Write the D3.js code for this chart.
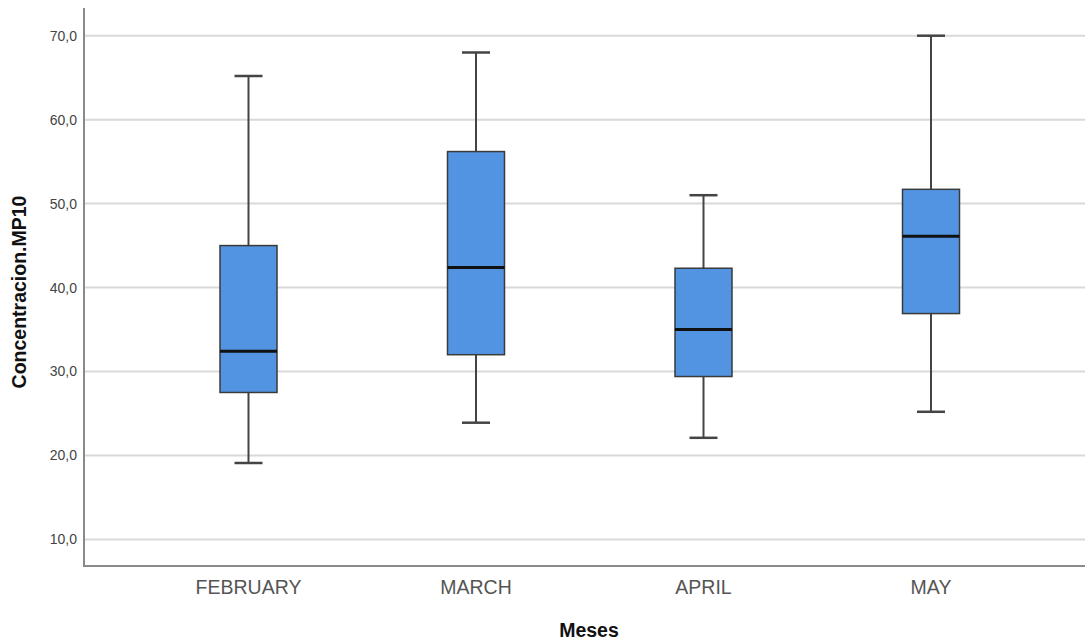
<!DOCTYPE html>
<html>
<head>
<meta charset="utf-8">
<script src="https://cdn.jsdelivr.net/npm/d3@7"></script>
<style>
  html, body { margin: 0; padding: 0; background: #fff; }
  svg { display: block; }
</style>
</head>
<body>
<svg id="chart" width="1085" height="641"></svg>
<script>
// ---- data ----
const months = ["FEBRUARY", "MARCH", "APRIL", "MAY"];
const whiskerLow  = [19.1, 23.9, 22.1, 25.2];
const q1          = [27.5, 32.0, 29.4, 36.9];
const median      = [32.4, 42.4, 35.0, 46.1];
const q3          = [45.0, 56.2, 42.3, 51.7];
const whiskerHigh = [65.2, 68.0, 51.0, 70.0];
const yTicks = [10, 20, 30, 40, 50, 60, 70];
const yTitle = "Concentracion.MP10";
const xTitle = "Meses";

(function () {
const data = months.map((m, i) => ({
  month: m, lo: whiskerLow[i], q1: q1[i], med: median[i], q3: q3[i], hi: whiskerHigh[i]
}));

const svg = d3.select("#chart");
const pLeft = 84, pRight = 1085, pTop = 8, pBottom = 566;

const y = d3.scaleLinear().domain([6.83, 73.3]).range([pBottom, pTop]);
const x = d3.scaleBand().domain(months).range([134.75, 1044.75]).paddingInner(0).paddingOuter(0);
const cx = m => x(m) + x.bandwidth() / 2;
const boxW = 57, capW = 28;

const locale = d3.formatLocale({decimal: ",", thousands: ".", grouping: [3], currency: ["", ""]});
const fmt = locale.format(".1f");

// gridlines
svg.append("g").selectAll("line").data(yTicks).join("line")
  .attr("x1", pLeft).attr("x2", pRight)
  .attr("y1", d => y(d)).attr("y2", d => y(d))
  .attr("stroke", "#d9d9d9").attr("stroke-width", 2);

// y axis
const yAxis = svg.append("g").attr("transform", `translate(${pLeft},0)`)
  .call(d3.axisLeft(y).tickValues(yTicks).tickFormat(fmt).tickSize(0).tickPadding(7));
yAxis.select(".domain").remove();
yAxis.selectAll("text")
  .attr("font-family", "Liberation Sans, Arial, sans-serif")
  .attr("font-size", 14).attr("fill", "#444");

// x axis labels
const xAxis = svg.append("g").attr("transform", `translate(0,${pBottom})`)
  .call(d3.axisBottom(x).tickSize(0).tickPadding(14));
xAxis.select(".domain").remove();
xAxis.selectAll("text")
  .attr("font-family", "Liberation Sans, Arial, sans-serif")
  .attr("font-size", 19.5).attr("fill", "#555");

// axis lines
svg.append("line").attr("x1", pLeft).attr("x2", pLeft).attr("y1", pTop).attr("y2", pBottom + 1)
  .attr("stroke", "#8a8a8a").attr("stroke-width", 2);
svg.append("line").attr("x1", pLeft - 1).attr("x2", pRight).attr("y1", pBottom).attr("y2", pBottom)
  .attr("stroke", "#8a8a8a").attr("stroke-width", 2);

// boxes
const g = svg.append("g").selectAll("g").data(data).join("g");
g.append("line").attr("x1", d => cx(d.month)).attr("x2", d => cx(d.month))
  .attr("y1", d => y(d.hi)).attr("y2", d => y(d.q3))
  .attr("stroke", "#444").attr("stroke-width", 2);
g.append("line").attr("x1", d => cx(d.month)).attr("x2", d => cx(d.month))
  .attr("y1", d => y(d.q1)).attr("y2", d => y(d.lo))
  .attr("stroke", "#444").attr("stroke-width", 2);
g.append("line").attr("x1", d => cx(d.month) - capW / 2).attr("x2", d => cx(d.month) + capW / 2)
  .attr("y1", d => y(d.hi)).attr("y2", d => y(d.hi))
  .attr("stroke", "#444").attr("stroke-width", 2.5);
g.append("line").attr("x1", d => cx(d.month) - capW / 2).attr("x2", d => cx(d.month) + capW / 2)
  .attr("y1", d => y(d.lo)).attr("y2", d => y(d.lo))
  .attr("stroke", "#444").attr("stroke-width", 2.5);
g.append("rect")
  .attr("x", d => cx(d.month) - boxW / 2).attr("width", boxW)
  .attr("y", d => y(d.q3)).attr("height", d => y(d.q1) - y(d.q3))
  .attr("fill", "#5294e2").attr("stroke", "#3a3a3a").attr("stroke-width", 1.5);
g.append("line").attr("x1", d => cx(d.month) - boxW / 2).attr("x2", d => cx(d.month) + boxW / 2)
  .attr("y1", d => y(d.med)).attr("y2", d => y(d.med))
  .attr("stroke", "#111").attr("stroke-width", 3);

// titles
svg.append("text")
  .attr("transform", `translate(26,${(pTop + pBottom) / 2 + 5}) rotate(-90)`)
  .attr("text-anchor", "middle")
  .attr("font-family", "Liberation Sans, Arial, sans-serif")
  .attr("font-weight", "bold").attr("font-size", 19.5).attr("fill", "#111")
  .text(yTitle);
svg.append("text")
  .attr("x", 589).attr("y", 637)
  .attr("text-anchor", "middle")
  .attr("font-family", "Liberation Sans, Arial, sans-serif")
  .attr("font-weight", "bold").attr("font-size", 19.5).attr("fill", "#111")
  .text(xTitle);
})();
</script>
</body>
</html>
